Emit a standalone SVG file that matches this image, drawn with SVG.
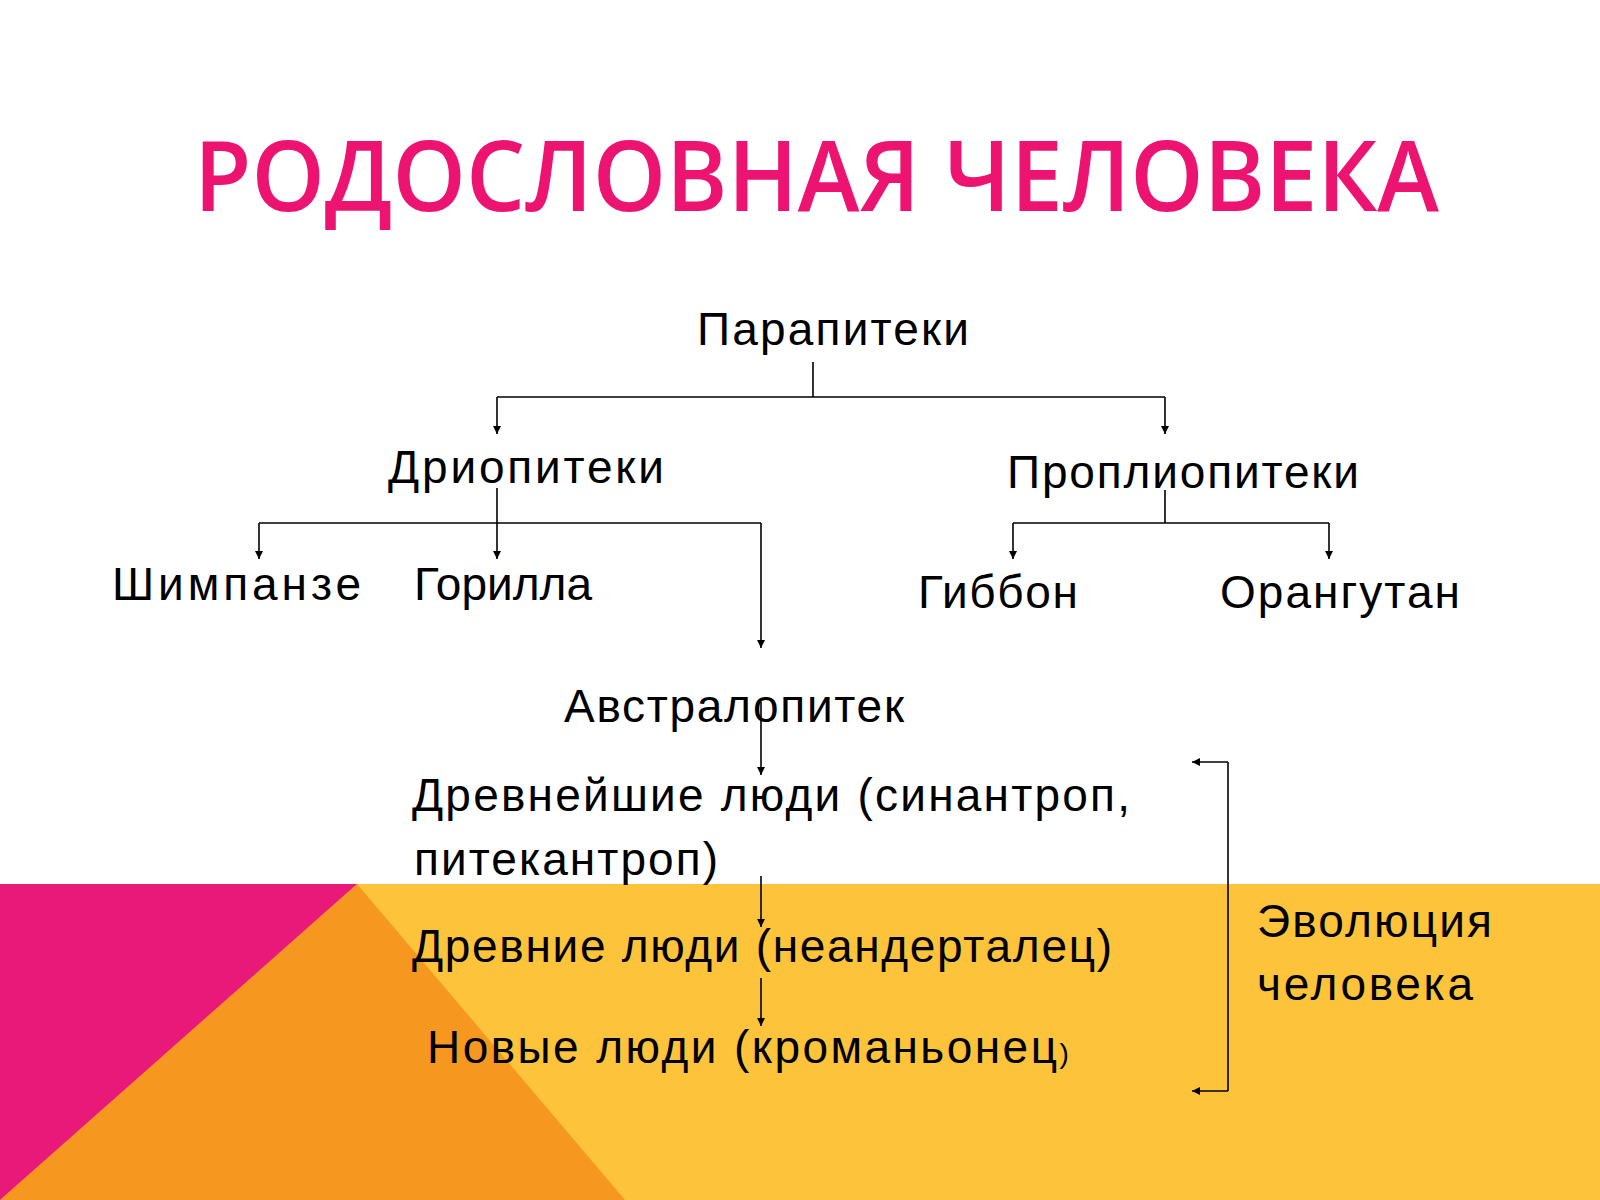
<svg xmlns="http://www.w3.org/2000/svg" width="1600" height="1200" viewBox="0 0 1600 1200">
<style>
.t{font-family:"Liberation Sans",Arial,sans-serif;font-size:46px;fill:#000}
.c{stroke:#000;stroke-width:1.6;fill:none}
</style>
<defs><marker id="a" viewBox="0 0 10 10" refX="10" refY="5" markerWidth="8" markerHeight="8" orient="auto" markerUnits="userSpaceOnUse"><path d="M0,0L10,5L0,10z" fill="#000"/></marker></defs>
<rect width="1600" height="1200" fill="#fff"/>
<rect x="0" y="884" width="1600" height="316" fill="#FCC33B"/>
<polygon points="357,884 625,1200 0,1200" fill="#F6971F"/>
<polygon points="0,884 357,884 0,1200" fill="#E9197A"/>
<text x="194" y="211" textLength="1245" lengthAdjust="spacingAndGlyphs" font-family="'Open Sans',sans-serif" font-weight="600" font-size="98" fill="#EC1470">РОДОСЛОВНАЯ ЧЕЛОВЕКА</text>
<g id="connectors" class="c">
<path d="M813,362V397M497,397H1165"/>
<path d="M497,397V434" marker-end="url(#a)"/>
<path d="M1165,397V434" marker-end="url(#a)"/>
<path d="M497,488V559" marker-end="url(#a)"/>
<path d="M259,523H761"/>
<path d="M259,523V559" marker-end="url(#a)"/>
<path d="M761,523V648" marker-end="url(#a)"/>
<path d="M1165,490V523M1013,523H1329"/>
<path d="M1013,523V559" marker-end="url(#a)"/>
<path d="M1329,523V559" marker-end="url(#a)"/>
<path d="M761,702V775" marker-end="url(#a)"/>
<path d="M761,876V927" marker-end="url(#a)"/>
<path d="M761,978V1026" marker-end="url(#a)"/>
<path d="M1228,762H1192" marker-end="url(#a)"/>
<path d="M1228,762V1091"/>
<path d="M1228,1091H1192" marker-end="url(#a)"/>
</g>
<g id="n1"><text class="t" x="697" y="345" textLength="272">Парапитеки</text></g>
<g id="n2"><text class="t" x="388" y="483" textLength="276">Дриопитеки</text></g>
<g id="n3"><text class="t" x="1007" y="488" textLength="352">Проплиопитеки</text></g>
<g id="n4"><text class="t" x="112" y="600" textLength="249">Шимпанзе</text></g>
<g id="n5"><text class="t" x="414" y="600" textLength="178">Горилла</text></g>
<g id="n6"><text class="t" x="918" y="608" textLength="160">Гиббон</text></g>
<g id="n7"><text class="t" x="1220" y="608" textLength="240">Орангутан</text></g>
<g id="n8"><text class="t" x="564" y="722" textLength="340">Австралопитек</text></g>
<g id="n9"><text class="t" x="412" y="811" textLength="718">Древнейшие люди (синантроп,</text><text class="t" x="414" y="875" textLength="304">питекантроп)</text></g>
<g id="n10"><text class="t" x="412" y="962" textLength="700">Древние люди (неандерталец)</text></g>
<g id="n11"><text class="t" x="427" y="1063"><tspan textLength="630">Новые люди (кроманьонец</tspan><tspan font-size="28">)</tspan></text></g>
<g id="n12"><text class="t" x="1257" y="937" textLength="235">Эволюция</text><text class="t" x="1257" y="1000" textLength="216">человека</text></g>
</svg>
